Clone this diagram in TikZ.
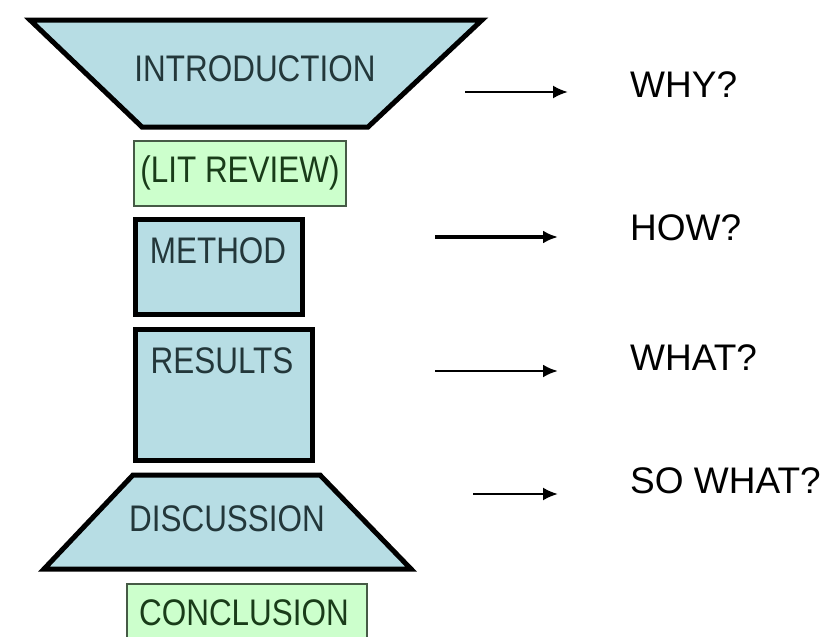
\documentclass[tikz,border=0pt]{standalone}
\usepackage{fontspec}
\setmainfont{Liberation Sans}
\newfontfamily\boxfont[FakeStretch=0.85]{Liberation Sans}
\usetikzlibrary{positioning,arrows.meta,calc}

\definecolor{funnelblue}{RGB}{183,221,228}
\definecolor{litgreen}{RGB}{204,255,204}
\definecolor{litedge}{RGB}{70,90,70}
\definecolor{bluetext}{RGB}{35,55,58}
\definecolor{greentext}{RGB}{25,60,25}

\tikzset{
  bluebox/.style={draw=black, line width=5pt, fill=funnelblue},
  greenbox/.style={draw=litedge, line width=1.8pt, fill=litgreen},
  boxtext/.style={inner sep=0pt, font=\boxfont\fontsize{37}{40}\selectfont, text=bluetext},
  littext/.style={boxtext, text=greentext},
  asktext/.style={inner sep=0pt, anchor=west, font=\fontsize{37}{40}\selectfont},
  askarrow/.style={line width=2.4pt, -{Latex[length=15pt,width=13pt]}}
}

\begin{document}
\begin{tikzpicture}[x=1pt, y=-1pt]
      \useasboundingbox (0,0) rectangle (833,637);
      \clip (0,0) rectangle (833,637);
      \fill[white] (0,0) rectangle (833,637);
      % funnel
      \draw[bluebox] (30,20) -- (482,20) -- (368,127) -- (142,127) -- cycle;
      \draw[greenbox] (134,141) rectangle (346,206);
      \draw[bluebox] (135.5,219.5) rectangle (302.5,314.5);
      \draw[bluebox] (135.5,329.5) rectangle (312.5,460.5);
      \draw[bluebox] (133,475) -- (320,475) -- (411,569) -- (44,569) -- cycle;
      \draw[greenbox] (127,584) rectangle (367,660);
      \node[boxtext] (intro) at (255,69) {INTRODUCTION};
      \node[littext] (litrev) at (240,173) {(LIT REVIEW)};
      \node[boxtext] (method) at (218,251) {METHOD};
      \node[boxtext] (results) at (222,361) {RESULTS};
      \node[boxtext] (discuss) at (227,519) {DISCUSSION};
      \node[littext] (conclude) at (244,613) {CONCLUSION};
      % questions
      \node[asktext] (why) at (630,85) {WHY?};
      \node[asktext] (how) at (630,228) {HOW?};
      \node[asktext] (what) at (630,358) {WHAT?};
      \node[asktext] (sowhat) at (630,481) {SO WHAT?};
      \coordinate (whyS) at (465,92);
      \coordinate (howS) at (435,237);
      \coordinate (whatS) at (435,371);
      \coordinate (sowhatS) at (473,494);
      \draw[askarrow, shorten >=62pt] (whyS) -- (whyS -| why.west);
      \draw[askarrow, line width=3.4pt, shorten >=72pt] (howS) -- (howS -| how.west);
      \draw[askarrow, line width=2.9pt, shorten >=72pt] (whatS) -- (whatS -| what.west);
      \draw[askarrow, shorten >=72pt] (sowhatS) -- (sowhatS -| sowhat.west);
    \end{tikzpicture}
\end{document}
